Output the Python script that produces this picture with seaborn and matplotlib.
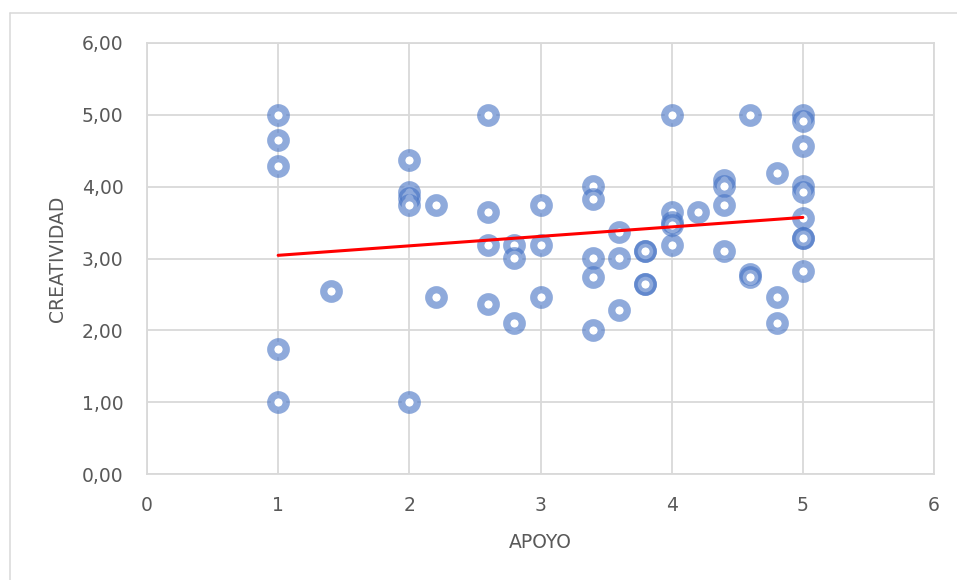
import numpy as np
import pandas as pd
import matplotlib
matplotlib.use("Agg")
import matplotlib.pyplot as plt
from matplotlib.lines import Line2D
from matplotlib.ticker import FuncFormatter
import seaborn as sns

# Survey scores: support (APOYO) vs. creativity (CREATIVIDAD)
apoyo = [1, 1, 1, 1, 1,
         1.4,
         2, 2, 2, 2, 2,
         2.2, 2.2,
         2.6, 2.6, 2.6, 2.6,
         2.8, 2.8, 2.8,
         3, 3, 3,
         3.4, 3.4, 3.4, 3.4, 3.4,
         3.6, 3.6, 3.6,
         3.8, 3.8, 3.8, 3.8,
         4, 4, 4, 4, 4,
         4.2,
         4.4, 4.4, 4.4, 4.4,
         4.6, 4.6, 4.6,
         4.8, 4.8, 4.8,
         5, 5, 5, 5, 5, 5, 5, 5, 5]
creatividad = [5.00, 4.65, 4.29, 1.74, 1.00,
               2.55,
               4.37, 3.93, 3.84, 3.74, 1.00,
               3.74, 2.46,
               5.00, 3.65, 3.19, 2.37,
               3.19, 3.01, 2.10,
               3.74, 3.19, 2.46,
               4.01, 3.83, 3.01, 2.74, 2.01,
               3.37, 3.01, 2.28,
               3.10, 3.10, 2.65, 2.65,
               5.00, 3.65, 3.51, 3.46, 3.19,
               3.65,
               4.09, 4.01, 3.74, 3.10,
               5.00, 2.78, 2.74,
               4.19, 2.46, 2.10,
               5.00, 4.92, 4.56, 4.01, 3.92, 3.56, 3.28, 3.28, 2.83]

x_ticks = [0, 1, 2, 3, 4, 5, 6]
y_ticks = [0, 1, 2, 3, 4, 5, 6]

df = pd.DataFrame({"APOYO": apoyo, "CREATIVIDAD": creatividad})

sns.set_theme(style="white")
plt.rcParams["font.family"] = ["DejaVu Sans"]

grid_col = "#D9D9D9"
text_col = "#595959"
ring_col = (0x44 / 255, 0x72 / 255, 0xC4 / 255, 0.6)

fig = plt.figure(figsize=(9.57, 5.80), dpi=100)
ax = fig.add_axes([147 / 957, 1 - 474 / 580, (934 - 147) / 957, (474 - 43) / 580])

# Chart-area frame (top and left edges)
fig.add_artist(Line2D([10 / 957, 10 / 957], [0, 1 - 13 / 580], transform=fig.transFigure,
                      color=grid_col, lw=1.1))
fig.add_artist(Line2D([10 / 957, 1], [1 - 13 / 580, 1 - 13 / 580], transform=fig.transFigure,
                      color=grid_col, lw=1.1))

sns.scatterplot(data=df, x="APOYO", y="CREATIVIDAD", ax=ax, marker="o",
                s=125, color="white", edgecolor=ring_col, linewidth=5.2,
                legend=False, zorder=3, clip_on=False)

sns.regplot(data=df, x="APOYO", y="CREATIVIDAD", ax=ax, scatter=False, ci=None,
            color="#FF0000", line_kws={"linewidth": 2.2, "zorder": 4})

ax.set_xlim(0, 6)
ax.set_ylim(0, 6)
ax.set_xticks(x_ticks)
ax.set_yticks(y_ticks)
ax.xaxis.set_major_formatter(FuncFormatter(lambda v, p: f"{v:.0f}"))
ax.yaxis.set_major_formatter(FuncFormatter(lambda v, p: f"{v:.2f}".replace(".", ",")))

ax.grid(True, color=grid_col, linewidth=1.3)
ax.set_axisbelow(True)
for sp in ax.spines.values():
    sp.set_visible(True)
    sp.set_color(grid_col)
    sp.set_linewidth(1.3)

ax.tick_params(axis="both", length=0, labelsize=13.5, labelcolor=text_col)
ax.tick_params(axis="x", pad=16)
ax.tick_params(axis="y", pad=17)

ax.set_xlabel("APOYO", fontsize=13.5, color=text_col)
ax.set_ylabel("CREATIVIDAD", fontsize=13.5, color=text_col)
ax.xaxis.set_label_coords(0.5, 1 - (542.5 - 43) / (474 - 43), transform=ax.transAxes)
ax.xaxis.label.set_va("center")
ax.yaxis.set_label_coords((58 - 147) / (934 - 147), 0.5, transform=ax.transAxes)
ax.yaxis.label.set_va("center")

fig.savefig("out.png", dpi=100, facecolor="white")
